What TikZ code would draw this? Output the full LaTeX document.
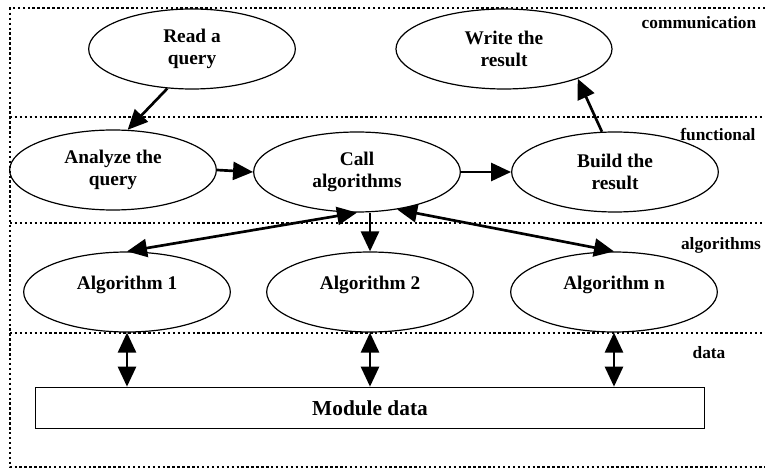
\documentclass[tikz,border=0pt]{standalone}
\usepackage{fontspec}
\setmainfont{Liberation Serif}
\usetikzlibrary{shapes.geometric,arrows.meta}

\tikzset{
    proc/.style={ellipse, draw, line width=0.9pt, minimum width=155pt, minimum height=60pt,
        inner sep=0pt, align=center, font=\fontsize{14.5}{17}\selectfont\bfseries},
    oneline/.style={text height=11pt, text depth=14pt},
    layer/.style={line width=2pt, dash pattern=on 1.8pt off 1.9pt},
    lbl/.style={font=\fontsize{13}{15}\selectfont\bfseries},
    arr/.style={line width=2pt, -{Triangle[length=15pt,width=13.5pt]}},
    biarr/.style={line width=2pt, {Triangle[length=15pt,width=13.5pt]}-{Triangle[length=15pt,width=13.5pt]}}
}

\begin{document}
\begin{tikzpicture}[x=0.75pt, y=-0.75pt]
    \useasboundingbox (0,0) rectangle (765,470);

    % Draw the outer frame and the layer borders
    \draw[layer] (765,8) -- (10,8) -- (10,467) -- (765,467);
    \draw[layer] (10,117) -- (765,117);
    \draw[layer] (10,223) -- (765,223);
    \draw[layer] (10,333) -- (765,333);

    % Layer names
    \node[lbl] (commlbl) at (699,23) {communication};
    \node[lbl] (funclbl) at (718,135) {functional};
    \node[lbl] (alglbl) at (721,245) {algorithms};
    \node[lbl] (datalbl) at (709,353) {data};

    % Communication layer
    \node[proc] (read) at (192,49) {Read a\\query};
    \node[proc, minimum width=162pt] (write) at (504,49) {Write the\\result};

    % Functional layer
    \node[proc] (analyze) at (113,170) {Analyze the\\query};
    \node[proc] (call) at (357,172) {Call\\algorithms};
    \node[proc] (build) at (615,172) {Build the\\result};

    % Algorithms layer
    \node[proc, oneline] (alg1) at (127,292) {Algorithm 1};
    \node[proc, oneline] (alg2) at (370,292) {Algorithm 2};
    \node[proc, oneline] (algn) at (614,292) {Algorithm n};

    % Data layer
    \node[draw, line width=1pt, minimum width=502pt, minimum height=31pt,
        font=\fontsize{16}{19}\selectfont\bfseries] (data) at (370,408) {Module data};

    % Arrows between the steps
    \draw[arr] (read.238) -- (analyze.70);
    \draw[arr] (analyze.east) -- (call.west);
    \draw[arr] (call.east) -- (build.west);
    \draw[arr] (build.108) -- (write.338);

    % Calls to the algorithms
    \draw[biarr] (call.south) -- (alg1.north);
    \draw[arr] (alg2.north |- call.south) -- (alg2.north);
    \draw[biarr] (call.317) -- (algn.north);

    % Access to the data
    \draw[biarr] (alg1.south) -- (alg1.south |- data.north);
    \draw[biarr] (alg2.south) -- (alg2.south |- data.north);
    \draw[biarr] (algn.south) -- (algn.south |- data.north);
\end{tikzpicture}
\end{document}
